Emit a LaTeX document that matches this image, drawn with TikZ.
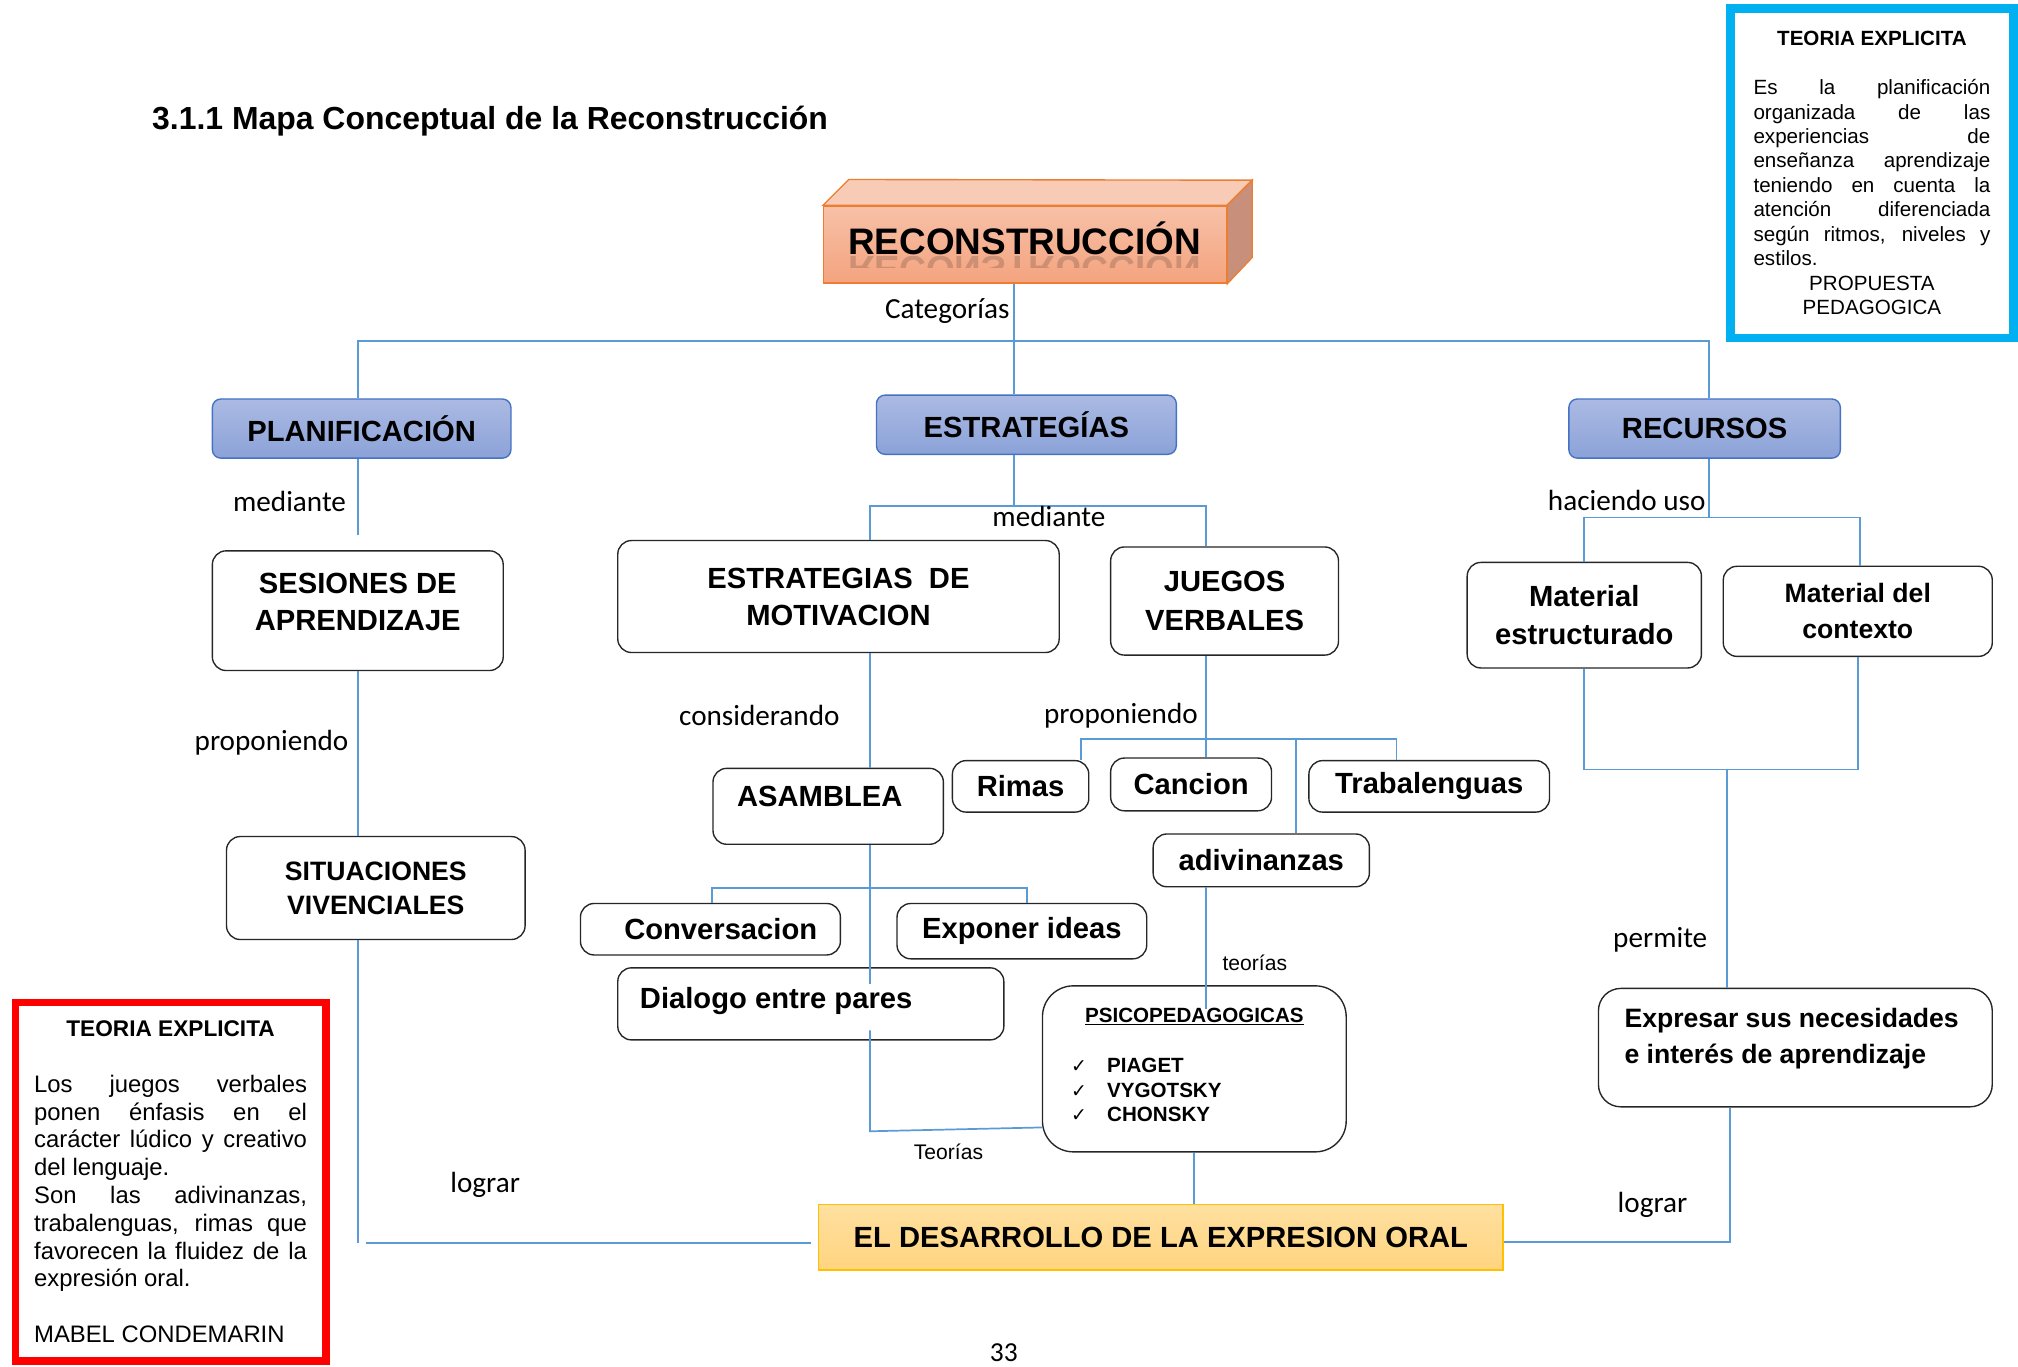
\documentclass[tikz,border=0pt]{standalone}
\usepackage{fontspec}
\setmainfont{Liberation Sans}
\newfontfamily\calfont{Carlito}
\newfontfamily\symfont{DejaVu Sans}
\usepackage{tikz}
\usetikzlibrary{calc}
\setlength{\parindent}{0pt}
\tolerance=10000 \hbadness=10000 \hyphenpenalty=10000
\definecolor{linkblue}{HTML}{5B9BD5}
\definecolor{hdrtop}{HTML}{ABBAE3}
\definecolor{hdrbot}{HTML}{8BA2D8}
\definecolor{hdrline}{HTML}{4472C4}
\definecolor{orangeline}{HTML}{ED7D31}
\definecolor{recfrontA}{HTML}{F7C1A8}
\definecolor{recfrontB}{HTML}{F4A37E}
\definecolor{rectop}{HTML}{F8CBB6}
\definecolor{recside}{HTML}{C8907A}
\definecolor{destop}{HTML}{FFE0A0}
\definecolor{desbot}{HTML}{FFD47F}
\definecolor{desline}{HTML}{FFC000}
\definecolor{teoblue}{HTML}{00B0F0}

\begin{document}
\begin{tikzpicture}[x=0.75pt,y=0.75pt,yscale=-1,
  sz/.style 2 args={minimum width=#1*0.75pt, minimum height=#2*0.75pt},
  link/.style={draw=linkblue, line width=1pt},
  hdr/.style={draw=hdrline, line width=0.8pt, rounded corners=5pt, top color=hdrtop, bottom color=hdrbot, inner sep=0pt, font=\bfseries\fontsize{17}{20}\selectfont},
  cbox/.style={draw=black!85, line width=0.8pt, rounded corners=8pt, fill=white, inner sep=0pt, align=center, font=\bfseries\fontsize{17}{21.5}\selectfont},
  btext/.style={inner sep=0pt, font=\bfseries\fontsize{17}{21}\selectfont},
  lbl/.style={inner sep=0pt, font=\calfont\fontsize{17}{20}\selectfont},
  arl/.style={inner sep=0pt, font=\fontsize{12.3}{14}\selectfont},
  teo/.style={anchor=north west, outer sep=0pt, inner ysep=0pt, align=justify}
]
\useasboundingbox (0,0) rectangle (1568,1061.4);

% Title
\node[anchor=west, inner sep=0pt, font=\bfseries\fontsize{18.6}{22}\selectfont] (title) at (118,94) {3.1.1 Mapa Conceptual de la Reconstrucción};

%Shape: 3D block
\node[sz={313}{60}, inner sep=0pt, draw=orangeline, line width=0.8pt, top color=recfrontA, bottom color=recfrontB] (recon) at (796.5,190) {};
\coordinate (reconBack) at (973,140);
\filldraw[draw=orangeline, line width=0.8pt, fill=rectop] (recon.north west) -- ++(20,-20) -- (reconBack) -- (recon.north east) -- cycle;
\filldraw[draw=orangeline, line width=0.8pt, fill=recside] (recon.north east) -- (reconBack) -- ++(0,60) -- (recon.south east) -- cycle;
% Text Node
\node[anchor=base, inner sep=0pt, font=\bfseries\fontsize{21.5}{24}\selectfont] (reconT) at (796,198) {RECONSTRUCCIÓN};
\begin{scope}
\clip (645,199) rectangle (950,208);
\node[transform shape, anchor=base, inner sep=0pt, opacity=.16, font=\bfseries\fontsize{21.5}{24}\selectfont] (reconR) at (796,199) {RECONSTRUCCIÓN};
\end{scope}

%Shape: headers
\node[hdr, sz={232}{46}] (planif) at (281,333) {PLANIFICACIÓN};
\node[hdr, sz={233}{46}] (estr) at (797.5,330) {ESTRATEGÍAS};
\node[hdr, sz={211}{46}] (recur) at (1324.5,333) {RECURSOS};

%Shape: left column
\node[cbox, sz={226}{93}] (ses) at (278,474.5) {};
\node[btext, align=center, font=\bfseries\fontsize{17}{21.5}\selectfont] (sesT) at (278,467.5) {SESIONES DE\\APRENDIZAJE};
\node[cbox, sz={232}{80}, font=\bfseries\fontsize{15.5}{20}\selectfont] (sit) at (292,690) {SITUACIONES\\VIVENCIALES};

%Shape: middle column
\node[cbox, sz={343}{87}] (mot) at (651.5,463.5) {ESTRATEGIAS\ \ DE\\MOTIVACION};
\node[cbox, sz={177}{84}, font=\bfseries\fontsize{17}{23}\selectfont] (jue) at (951.5,467) {JUEGOS\\VERBALES};
\node[cbox, sz={179}{59}] (asam) at (643.5,626.5) {};
\node[btext] (asamT) at (637,619) {ASAMBLEA};
\node[cbox, sz={106}{40}] (rim) at (793,611) {Rimas};
\node[cbox, sz={125}{41}] (can) at (925.5,609.5) {Cancion};
\node[cbox, sz={187}{40}] (tra) at (1110.5,611) {Trabalenguas};
\node[cbox, sz={168}{41}] (adi) at (980,668.5) {adivinanzas};
\node[cbox, sz={202}{40}] (conv) at (552,722) {\hspace{12pt}Conversacion};
\node[cbox, sz={194}{43}] (expo) at (794,723.5) {Exponer ideas};
\node[cbox, sz={300}{56}] (dia) at (630,780) {};
\node[btext, anchor=north west] (diaT) at (497,767) {Dialogo entre pares};
\node[cbox, rounded corners=18pt, sz={236}{129}] (psico) at (928,830.5) {};
\node[inner sep=0pt, font=\bfseries\fontsize{12}{14}\selectfont] (psicoT) at (928,790) {\underline{PSICOPEDAGOGICAS}};
\node[anchor=north west, inner sep=0pt, align=left, font=\bfseries\fontsize{12}{14.25}\selectfont] (psicoL) at (832,822)
  {\makebox[21pt][l]{\symfont\mdseries\fontsize{11}{12}\selectfont ✓}PIAGET\\
   \makebox[21pt][l]{\symfont\mdseries\fontsize{11}{12}\selectfont ✓}VYGOTSKY\\
   \makebox[21pt][l]{\symfont\mdseries\fontsize{11}{12}\selectfont ✓}CHONSKY};
\node[sz={532}{51}, inner sep=0pt, draw=desline, line width=1pt, top color=destop, bottom color=desbot, font=\bfseries\fontsize{17}{20}\selectfont] (des) at (902,961.5) {EL DESARROLLO DE LA EXPRESION ORAL};

%Shape: right column
\node[cbox, sz={182}{82}, font=\bfseries\fontsize{17}{22}\selectfont] (mest) at (1231,478) {Material\\estructurado};
\node[cbox, sz={209}{70}, font=\bfseries\fontsize{15.5}{21}\selectfont] (mctx) at (1443.5,475) {Material del\\contexto};
\node[cbox, rounded corners=13pt, sz={306}{92}] (exp) at (1395,814) {};
\node[anchor=north west, inner sep=0pt, align=left, font=\bfseries\fontsize{15.5}{21}\selectfont] (expT) at (1262,783) {Expresar sus necesidades\\e interés de aprendizaje};

%Straight Lines: junctions
\coordinate (jTop) at (788,265);
\coordinate (jTopL) at (278,265);
\coordinate (jTopR) at (1328,265);
\coordinate (jLog) at (278,966);
\coordinate (jMed) at (788,393);
\coordinate (jMedL) at (676,393);
\coordinate (jMedR) at (937,393);
\coordinate (jConv) at (553,690);
\coordinate (jExpo) at (798,690);
\coordinate (jTeo) at (676,879);
\coordinate (jJue) at (937,574);
\coordinate (jRim) at (840,574);
\coordinate (jTra) at (1085,574);
\coordinate (jAdi) at (1007,574);
\coordinate (jRec) at (1328,402);
\coordinate (jRecL) at (1231,402);
\coordinate (jRecR) at (1445,402);
\coordinate (jPer) at (1342,598);
\coordinate (jLog2) at (1344,965);

%Straight Lines
\draw[link] (recon.south -| jTop) -- (estr.north -| jTop);
\draw[link] (planif.north -| jTopL) -- (jTopL) -- (jTopR) -- (recur.north -| jTopR);
\draw[link, shorten >=9pt] (planif.south -| ses.north) -- (ses.north);
\draw[link] (ses.south) -- (ses.south |- sit.north);
\draw[link] (sit.south -| jLog) -- (jLog);
\draw[link, shorten <=5pt, shorten >=4pt] (jLog) -- (des.west |- jLog);
\draw[link] (estr.south -| jMed) -- (jMed);
\draw[link] (mot.north -| jMedL) -- (jMedL) -- (jMedR) -- (jue.north -| jMedR);
\draw[link] (mot.south -| jMedL) -- (asam.north -| jMedL);
\draw[link, shorten >=-10pt] (asam.south -| jMedL) -- (dia.north -| jMedL);
\draw[link] (conv.north -| jConv) -- (jConv) -- (jExpo) -- (expo.north -| jExpo);
\draw[link, shorten <=-6pt] (dia.south -| jTeo) -- (jTeo) -- ($(psico.south west)!.15!(psico.north west)$);
\draw[link] (jue.south -| jJue) -- (can.north -| jJue);
\draw[link] (rim.north -| jRim) -- (jRim) -- (jTra) -- (tra.north -| jTra);
\draw[link] (jAdi) -- (adi.north -| jAdi);
\draw[link, shorten >=-14pt] (adi.south -| jJue) -- (psico.north -| jJue);
\draw[link] (psico.south) -- (psico.south |- des.north);
\draw[link] (recur.south -| jRec) -- (jRec);
\draw[link] (mest.north -| jRecL) -- (jRecL) -- (jRecR) -- (mctx.north -| jRecR);
\draw[link] (mest.south) -- (mest.south |- jPer) -- (mctx.south |- jPer) -- (mctx.south);
\draw[link] (jPer) -- (exp.north -| jPer);
\draw[link] (exp.south -| jLog2) -- (jLog2) -- (des.east |- jLog2);

% Text Node: link labels
\node[lbl] (lCat) at (736,242) {Categorías};
\node[lbl] (lMed) at (225,390) {mediante};
\node[lbl] (lProp) at (211,577) {proponiendo};
\node[lbl] (lLog) at (377,921) {lograr};
\node[lbl] (lMed2) at (815,401) {mediante};
\node[lbl] (lCons) at (590,556) {considerando};
\node[lbl] (lProp2) at (871,556) {proponiendo};
\node[lbl] (lHac) at (1264,389) {haciendo uso};
\node[lbl] (lPer) at (1290,730) {permite};
\node[lbl] (lLog2) at (1284,936) {lograr};
\node[arl] (lTeo) at (975,748) {teorías};
\node[arl] (lTeo2) at (737,895) {Teorías};
\node[lbl, font=\calfont\fontsize{16}{18}\selectfont] (page) at (780,1051) {33};

% Text Node: teoria boxes
\node[teo, draw=teoblue, line width=5pt, text width=138pt, inner xsep=13.5pt, minimum height=192pt, font=\fontsize{12}{14.25}\selectfont] (teoB) at (1344.5,6.5)
 {{\centering\bfseries TEORIA EXPLICITA\par}
  \vspace{\baselineskip}
  Es la planificación\linebreak organizada de las\linebreak experiencias de\linebreak enseñanza aprendizaje\linebreak teniendo en cuenta la\linebreak atención diferenciada\linebreak según ritmos, niveles y\linebreak estilos.\par
  {\centering PROPUESTA\par PEDAGOGICA\par}};
\node[teo, draw=red, line width=4.5pt, text width=159pt, inner xsep=10.9pt, minimum height=209pt, font=\fontsize{13.9}{16.2}\selectfont] (teoR) at (12,779)
 {{\centering\bfseries\fontsize{13.2}{16.2}\selectfont TEORIA EXPLICITA\par}
  \vspace{\baselineskip}
  Los juegos verbales\linebreak ponen énfasis en el\linebreak carácter lúdico y creativo\linebreak del lenguaje.\par
  Son las adivinanzas,\linebreak trabalenguas, rimas que\linebreak favorecen la fluidez de la\linebreak expresión oral.\par
  \vspace{\baselineskip}
  MABEL CONDEMARIN};

\end{tikzpicture}
\end{document}
